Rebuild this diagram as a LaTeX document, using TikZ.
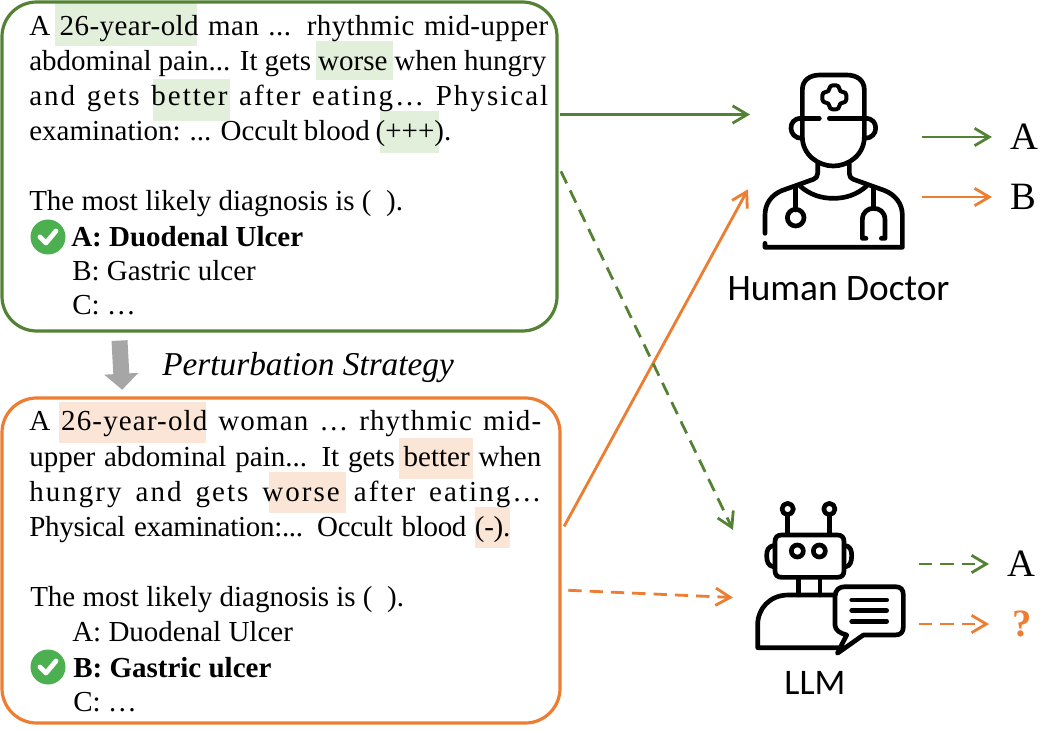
\documentclass[tikz,border=0pt]{standalone}
\usepackage{fontspec}
\setmainfont{Liberation Serif}
\newfontfamily\carlitofont{Carlito}
\usetikzlibrary{arrows.meta,calc}
\definecolor{gr}{HTML}{548235}
\definecolor{og}{HTML}{ED7D31}
\definecolor{hg}{HTML}{E2EFDA}
\definecolor{ho}{HTML}{FBE5D6}
\definecolor{ck}{HTML}{4CAF50}
\newdimen\pxu \pxu=.75pt
\newcommand{\txl}[6]{\node[textline] (#1) at (#2,#3) {\ifdim#4pt>0pt \hbox to #4\pxu{\addfontfeature{LetterSpace=#5}#6}\else \addfontfeature{LetterSpace=#5}#6\fi};}
\newcommand{\checkmarkat}[2]{\fill[ck] (#1,#2) circle (17.5);
 \draw[white,line width=3.6pt,line cap=round,line join=round] ($(#1,#2)+(-8,0)$) -- ($(#1,#2)+(-2,6)$) -- ($(#1,#2)+(8,-6)$);}
\tikzset{
 textline/.style={anchor=base west,inner sep=0pt,font=\fontsize{21.75}{24}\selectfont},
 qbox/.style={draw,line width=2.4pt,rounded corners=26pt,inner sep=0pt},
 iconbox/.style={inner sep=0pt,outer sep=0pt},
 conn/.style={line width=2.1pt,-{Straight Barb[length=11pt,width=13pt,line width=2.1pt]}},
 dsh/.style={conn,dash pattern=on 10pt off 6pt},
 answer/.style={anchor=west,inner xsep=13.5pt,inner ysep=0pt,font=\fontsize{29}{30}\selectfont},
 ic/.style={line width=3.5pt,line cap=round,line join=round},
}
\begin{document}
\begin{tikzpicture}[x=.75pt,y=-.75pt]
\useasboundingbox (0,0) rectangle (1052,730);
% highlights
\fill[hg] (55,3) rectangle (197,46);
\fill[hg] (316,41) rectangle (393,80);
\fill[hg] (153,79) rectangle (230,121);
\fill[hg] (380,111) rectangle (439,153);
\fill[ho] (59,402) rectangle (206,443);
\fill[ho] (399,438) rectangle (473,479);
\fill[ho] (269,472) rectangle (346,513);
\fill[ho] (475,507) rectangle (510,548);
% boxes
\node[qbox,draw=gr,minimum width=416.25pt,minimum height=246.75pt] (orig) at (279.5,166.5) {};
\node[qbox,draw=og,minimum width=418.5pt,minimum height=243.75pt] (pert) at (281,560.5) {};
% text 1
\txl{a1}{29}{36}{519}{1.5}{A 26-year-old man ... rhythmic mid-upper}
\txl{a2}{29}{71}{517}{0}{abdominal pain... It gets worse when hungry}
\txl{a3}{29}{106}{519}{7}{and gets better after eating… Physical}
\txl{a4}{29}{141}{422}{0}{examination: ... Occult blood (+++).}
\txl{a5}{29}{211}{0}{0}{The most likely diagnosis is (\ \ ).}
\txl{a6}{71}{247}{0}{0}{\textbf{A: Duodenal Ulcer}}
\txl{a7}{72}{281}{0}{0}{B: Gastric ulcer}
\txl{a8}{72}{315}{0}{0}{C: …}
\checkmarkat{48}{237}
% text 2
\txl{b1}{29}{431}{512}{4}{A 26-year-old woman … rhythmic mid-}
\txl{b2}{29}{466}{512}{0}{upper abdominal pain... It gets better when}
\txl{b3}{29}{501}{512}{7}{hungry and gets worse after eating…}
\txl{b4}{29}{536}{481}{-1}{Physical examination:... Occult blood (-).}
\txl{b5}{30}{606}{0}{0}{The most likely diagnosis is (\ \ ).}
\txl{b6}{72}{641}{0}{0}{A: Duodenal Ulcer}
\txl{b7}{73}{677}{0}{0}{\textbf{B: Gastric ulcer}}
\txl{b8}{73}{711}{0}{0}{C: …}
\checkmarkat{48}{667}
% perturbation
\draw[line width=12pt,draw=black!35,-{Triangle[length=12pt,width=25pt]},shorten <=6pt,shorten >=5pt] (orig.226.6) -- (pert.134);
\node[anchor=base west,inner sep=0pt,font=\fontsize{25}{26}\selectfont\itshape] (strategy) at (162,376) {Perturbation Strategy};
% icon anchors
\node[iconbox,minimum width=130.5pt,minimum height=132pt] (doctor) at (835,161) {};
\node[iconbox,minimum width=139.5pt,minimum height=146.25pt] (llm) at (826,597.5) {};
\coordinate (docin) at (750,114.5);
% doctor icon
\begin{scope}[shift={(720,60)},x=.25pt,y=-.25pt]
\draw[ic] (247,175) -- (247,90) .. controls (247,60) and (270,45) .. (300,45) -- (380,45) .. controls (410,45) and (433,60) .. (433,90) -- (433,175);
\draw[ic] (247,175) -- (298,175) (328,175) -- (433,175);
\draw[ic] (247,175) -- (247,230) .. controls (247,285) and (295,318) .. (340,318) .. controls (385,318) and (433,285) .. (433,230) -- (433,175);
\draw[ic] (245,175) .. controls (220,175) and (213,190) .. (213,205) .. controls (213,220) and (225,235) .. (245,235);
\draw[ic] (435,175) .. controls (460,175) and (467,190) .. (467,205) .. controls (467,220) and (455,235) .. (435,235);
\draw[ic,line width=3pt,rounded corners=2.5pt] (328,76) -- (358,76) -- (358,96) -- (379,96) -- (379,128) -- (358,128) -- (358,148) -- (328,148) -- (328,128) -- (307,128) -- (307,96) -- (328,96) -- cycle;
\draw[ic] (293,312) -- (293,340) .. controls (293,350) and (288,355) .. (280,358) -- (185,392) .. controls (155,405) and (135,430) .. (135,465) -- (135,520);
\draw[ic] (135,550) -- (135,562) -- (547,562) -- (547,465) .. controls (547,430) and (525,405) .. (495,392) -- (400,358) .. controls (392,355) and (388,350) .. (388,340) -- (388,312);
\draw[ic] (240,378) .. controls (270,405) and (305,415) .. (340,415) .. controls (375,415) and (410,405) .. (440,378);
\draw[ic] (227,380) -- (227,450);
\draw[ic] (227,473) circle (25);
\draw[ic] (460,385) -- (460,445);
\draw[ic] (438,535) -- (427,535) -- (427,480) .. controls (427,455) and (445,445) .. (460,445) .. controls (478,445) and (495,455) .. (495,480) -- (495,535) -- (484,535);
\end{scope}
% robot icon
\begin{scope}[shift={(720,490)},x=.25pt,y=-.25pt]
\draw[ic] (203,57) circle (17) (328,57) circle (17);
\draw[ic] (203,75) -- (203,132) (328,75) -- (328,132);
\draw[ic] (185,135) -- (352,135) .. controls (365,135) and (372,142) .. (372,155) -- (372,242) .. controls (372,255) and (365,262) .. (352,262) -- (185,262) .. controls (172,262) and (165,255) .. (165,242) -- (165,155) .. controls (165,142) and (172,135) .. (185,135) -- cycle;
\draw[ic] (232,183) circle (18) (298,183) circle (18);
\draw[ic] (160,167) .. controls (145,170) and (140,180) .. (140,197) .. controls (140,215) and (145,228) .. (160,230);
\draw[ic] (378,167) .. controls (390,170) and (395,180) .. (395,197) .. controls (395,215) and (390,228) .. (378,230);
\draw[ic] (235,262) -- (235,315) (300,262) -- (300,315);
\draw[ic] (345,315) -- (205,315) .. controls (150,315) and (113,355) .. (113,405) -- (113,473) -- (360,473);
\draw[ic] (375,290) -- (525,290) .. controls (542,290) and (550,298) .. (550,315) -- (550,410) .. controls (550,427) and (542,435) .. (525,435) -- (430,435) -- (352,490) -- (380,435) .. controls (360,430) and (345,420) .. (345,405) -- (345,320) .. controls (345,300) and (358,290) .. (375,290) -- cycle;
\draw[ic] (395,330) -- (500,330) (395,362) -- (500,362) (395,394) -- (500,394);
\end{scope}
% labels
\node[inner sep=0pt,anchor=base,font=\carlitofont\fontsize{28}{30}\selectfont] (doctorlabel) at (838.5,301) {Human Doctor};
\node[inner sep=0pt,anchor=base,font=\carlitofont\fontsize{27}{30}\selectfont] (llmlabel) at (815,694) {LLM};
% answers
\node[answer] (dA) at (992,137) {A};
\node[answer] (dB) at (992,197) {B};
\node[answer] (lA) at (989,564) {A};
\node[answer,text=og,font=\fontsize{29}{30}\selectfont\bfseries,inner xsep=17.5pt] (lQ) at (989,624) {?};
% connectors
\draw[conn,gr,shorten <=1pt] (orig.east |- docin) -- (docin);
\draw[conn,og,shorten <=4pt] (pert.6.1) -- (doctor.198);
\draw[dsh,gr,shorten <=4pt] (orig.east) -- (llm.144.8);
\draw[dsh,og,shorten <=5pt] (pert.-6.2) -- (llm.west);
\draw[conn,gr] (doctor.east |- dA) -- (dA.west);
\draw[conn,og] (doctor.east |- dB) -- (dB.west);
\draw[dsh,gr] (llm.east |- lA) -- (lA.west);
\draw[dsh,og] (llm.east |- lQ) -- (lQ.west);
\end{tikzpicture}
\end{document}
